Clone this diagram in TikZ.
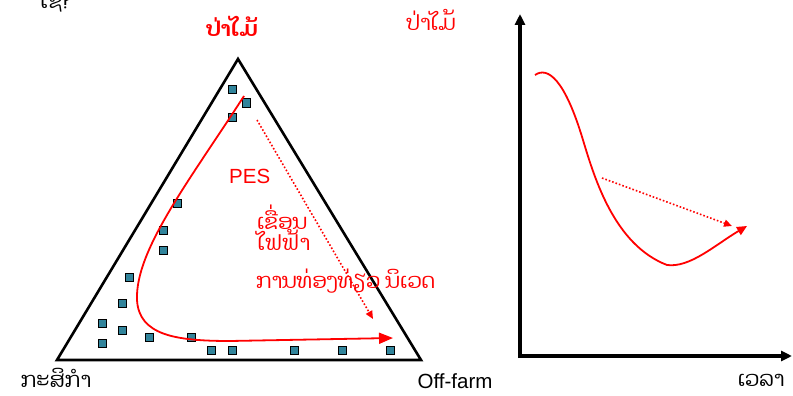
\documentclass[tikz,border=0pt]{standalone}
\usepackage{fontspec}
\setmainfont{Liberation Sans}
\newfontfamily\laofont[Script=Lao]{Dhyana}
\usetikzlibrary{arrows.meta}
\definecolor{sqfill}{HTML}{31849B}
\tikzset{
  sq/.style={draw=black, fill=sqfill, minimum size=8pt, inner sep=0pt, line width=1pt},
  tri/.style={line width=2.6pt, line join=miter},
  redcurve/.style={red, line width=1.8pt},
  reddot/.style={red, line width=1.6pt, dotted, -{Triangle[length=8pt,width=7pt]}},
  axis/.style={line width=3.5pt, -{Triangle[length=11pt,width=10pt]}},
  laolbl/.style={font=\laofont\fontsize{21}{24}\selectfont, inner sep=0pt},
  lat/.style={font=\fontsize{20.5}{24}\selectfont, inner sep=0pt},
}
\begin{document}
\begin{tikzpicture}[x=1pt,y=-1pt]
\useasboundingbox (0,0) rectangle (793,396);
% triangle
\coordinate (A) at (238,59);
\coordinate (B) at (57,360);
\coordinate (C) at (421,360);
\draw[tri] (A) -- (B) -- (C) -- cycle;
% squares
\foreach \i/\x/\y in {1/232/90,2/246/103,3/232/117,4/177/203,5/163/230,6/163/250,7/129/277,8/122/303,9/102/323,10/122/330,11/102/343,12/149/337,13/191/337,14/211/350,15/232/350,16/294/350,17/342/350,18/390/350}
  \node[sq] (s\i) at (\x,\y) {};
% red curve in triangle
\coordinate (c0) at (244,96);
\coordinate (c1) at (137,300);
\coordinate (c2) at (230,341);
\coordinate (c3) at (393,338);
\draw[redcurve, -{Triangle[length=14pt,width=11pt]}] (c0) .. controls (190,180) and (135,250) .. (c1) .. controls (139,335) and (175,341) .. (c2) -- (c3);
% dotted arrow in triangle
\coordinate (d0) at (257,120);
\coordinate (d1) at (373,319);
\draw[reddot] (d0) -- (d1);
% labels inside
\node[lat, red, anchor=west] (pes) at (229,176) {PES};
\node[laolbl, red, anchor=north west, align=left] (dam) at (257,205) {ເຂື່ອນ\\[-3pt]ໄຟຟ້າ};
\node[laolbl, red, anchor=west] (eco) at (256,281) {ການທ່ອງທ່ຽວ ນິເວດ};
% corner labels
\node[laolbl, red, font=\laofont\bfseries\fontsize{21}{24}\selectfont] (forest1) at (232,26) {ປ່າໄມ້};
\node[laolbl, red] (forest2) at (431,20) {ປ່າໄມ້};
\node[laolbl] (agri) at (56,378) {ກະສິກຳ};
\node[lat] (off) at (455,381) {Off-farm};
\node[laolbl] (time) at (761,380) {ເວລາ};
\node[laolbl, anchor=south] (top) at (56,12) {ໃຊ?};
% right chart
\coordinate (O) at (520,356);
\coordinate (Yt) at (520,14);
\coordinate (Xr) at (792,356);
\draw[axis] (520,358) -- (Yt);
\draw[axis] (518,356) -- (Xr);
\coordinate (r0) at (535,75);
\coordinate (r1) at (600,183);
\coordinate (r2) at (667,265);
\coordinate (r3) at (747,226);
\draw[redcurve, -{Triangle[length=10pt,width=9pt]}] (r0) .. controls (548,66) and (565,80) .. (583,140) .. controls (595,180) and (615,245) .. (r2) .. controls (690,268) and (715,245) .. (r3);
\coordinate (e0) at (602,178);
\coordinate (e1) at (732,226);
\draw[reddot] (e0) -- (e1);
\end{tikzpicture}
\end{document}
